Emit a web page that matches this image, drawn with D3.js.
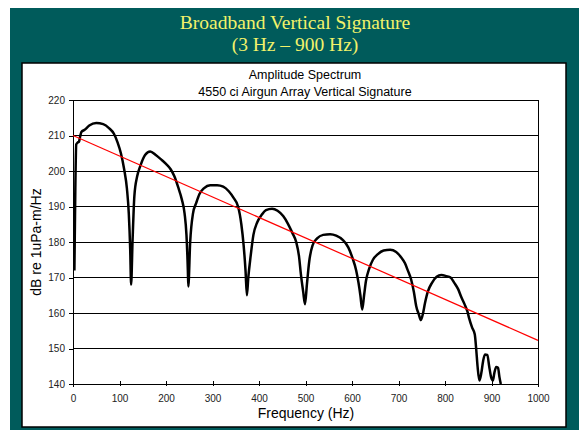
<!DOCTYPE html>
<html><head><meta charset="utf-8">
<script src="https://cdn.jsdelivr.net/npm/d3@7"></script>
<style>body{margin:0;background:#fff;}svg{display:block;}</style>
</head><body>
<svg id="c" width="579" height="430"></svg>
<script>
const headerLines = ["Broadband Vertical Signature", "(3 Hz \u2013 900 Hz)"];
const chartTitle = ["Amplitude Spectrum", "4550 ci Airgun Array Vertical Signature"];
const xLabel = "Frequency (Hz)";
const yLabel = "dB re 1uPa-m/Hz";
const xTicks = [0,100,200,300,400,500,600,700,800,900,1000];
const yTicks = [140,150,160,170,180,190,200,210,220];
const freq = [3,5,7,10,13,15,18,25,35,50,65,78,88,96,103,110,116,120,123,125,128,132,138,145,155,166,178,190,200,210,218,226,234,240,244,247,248,252,258,265,272,282,295,310,323,335,345,355,362,367,371,374,377,382,388,396,405,415,428,440,452,462,472,480,486,490,495,499,503,508,515,525,538,553,566,580,592,601,609,614,618,622,626,630,637,645,655,668,682,695,705,714,720,727,733,738,744,748,752,757,763,772,782,792,803,812,820,828,835,842,848,852,858,864,867,870,874,878,882,886,891,895,899,903,906,910,914,917,920];
const level = [172,195,207.5,208,208.3,209.5,211,211.6,212.8,213.5,213.2,212,210.5,208,205,200.5,195,188,178,168,180,193,198.5,201.5,204.5,205.5,204.5,203.2,202,200.5,198.5,195.5,192,188,182,172,167.5,180,188,191,193.5,195.2,196,196,195.6,194.3,192.5,190,185,179,172,165,170,176,182,185.5,187.5,189,189.4,188.8,187.3,185.2,182.5,180,176,171,166,162.5,168,174.5,179,181,182,182.2,181.8,180.6,178.5,175.5,172,168.5,165,161,165,169,172.5,175,176.5,177.6,177.8,177.2,175.8,174,172,169.5,166,162,159.5,158,159.5,162.8,166,168.5,170.2,170.7,170.4,170,168.5,166.8,164.5,162.5,160.5,158.5,156,154,150,145,141,143,146.5,148.3,148.2,145,142,141,143,144.8,144.6,142,140];
const trendFreq = [0,1000];
const trendLevel = [210,152.3];

const svg = d3.select("#c");
// teal background
svg.append("rect").attr("x",10).attr("y",8).attr("width",569).attr("height",422).attr("fill","#005b5b");
const hdr = svg.append("g").attr("font-family","'Liberation Serif','Times New Roman',serif").attr("font-size",19.5).attr("fill","#f2f26a").attr("text-anchor","middle");
headerLines.forEach((t,i)=>hdr.append("text").attr("x",295).attr("y",29+i*22).text(t));
// white panel
svg.append("rect").attr("x",22).attr("y",63).attr("width",544).attr("height",364).attr("fill","#fff").attr("stroke","#000").attr("stroke-width",1.5);

const m = {l:73, r:538, t:100, b:384};
const x = d3.scaleLinear().domain([0,1000]).range([m.l,m.r]);
const y = d3.scaleLinear().domain([140,220]).range([m.b,m.t]);

const font = "'Liberation Sans',Arial,sans-serif";
// grid
svg.append("g").selectAll("line").data(yTicks).join("line")
  .attr("x1",m.l).attr("x2",m.r).attr("y1",d=>y(d)).attr("y2",d=>y(d))
  .attr("stroke","#000").attr("stroke-width",1).attr("shape-rendering","crispEdges");
svg.append("line").attr("x1",m.r).attr("x2",m.r).attr("y1",m.t).attr("y2",m.b).attr("stroke","#000").attr("stroke-width",1).attr("shape-rendering","crispEdges");

const xAxis = svg.append("g").attr("transform",`translate(0,${m.b})`)
  .call(d3.axisBottom(x).tickValues(xTicks).tickFormat(d3.format("d")).tickSize(3).tickPadding(8));
xAxis.selectAll(".tick line").attr("y1",-3).attr("y2",2);
const yAxis = svg.append("g").attr("transform",`translate(${m.l},0)`)
  .call(d3.axisLeft(y).tickValues(yTicks).tickSize(4).tickPadding(4));
[xAxis,yAxis].forEach(a=>{
  a.attr("font-family",font).attr("font-size",10);
  a.selectAll("path,line").attr("stroke","#000").attr("shape-rendering","crispEdges");
  a.selectAll("text").attr("fill","#222");
});

// data line
const line = d3.line().x((d,i)=>x(freq[i])).y((d,i)=>y(level[i])).curve(d3.curveMonotoneX);
svg.append("path").attr("d",line(level)).attr("fill","none").attr("stroke","#000").attr("stroke-width",2.5).attr("stroke-linejoin","round");
// trend
svg.append("line").attr("x1",x(trendFreq[0])).attr("y1",y(trendLevel[0])).attr("x2",x(trendFreq[1])).attr("y2",y(trendLevel[1]))
  .attr("stroke","#ff0000").attr("stroke-width",1.2);

// titles
const tg = svg.append("g").attr("font-family",font).attr("font-size",12.5).attr("fill","#000").attr("text-anchor","middle");
chartTitle.forEach((t,i)=>tg.append("text").attr("x",305).attr("y",79+i*17).text(t));
svg.append("text").attr("x",306).attr("y",418).attr("text-anchor","middle").attr("font-family",font).attr("font-size",14).text(xLabel);
svg.append("text").attr("transform","translate(41,242) rotate(-90)").attr("text-anchor","middle").attr("font-family",font).attr("font-size",14).text(yLabel);
</script>
</body></html>
